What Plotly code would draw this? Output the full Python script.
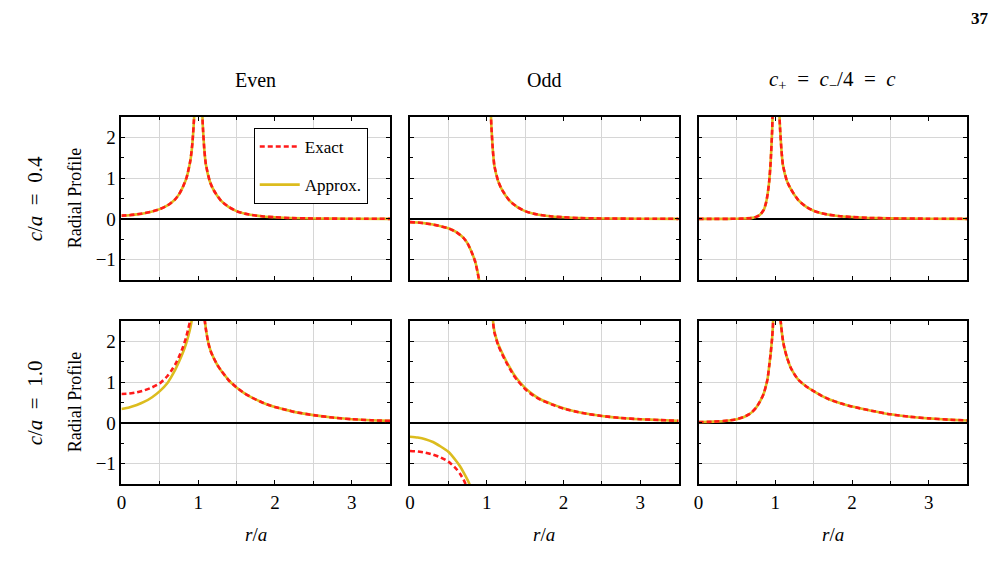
import plotly.graph_objects as go

# ---------------- data ----------------
col_titles = ["Even", "Odd", "<i>c</i><sub>+</sub>&nbsp; =&nbsp; <i>c</i><sub>−</sub>/4&nbsp; =&nbsp; <i>c</i>"]
row_titles = ["<i>c</i>/<i>a</i>&nbsp; =&nbsp; 0.4", "<i>c</i>/<i>a</i>&nbsp; =&nbsp; 1.0"]
y_label = "Radial Profile"
x_label = "<i>r</i>/<i>a</i>"
page_number = "37"

# Row 1 (c/a = 0.4)
r_even04 = [0, 0.1, 0.2, 0.3, 0.4, 0.5, 0.6, 0.7, 0.75, 0.8, 0.85, 0.9, 0.925, 0.95, 0.97, 1.0,
            1.03, 1.04, 1.05, 1.06, 1.08, 1.1, 1.15, 1.2, 1.3, 1.4, 1.5, 1.6, 1.7, 1.85, 2.0, 2.2, 2.5, 3.0, 3.5]
exact_even04 = [0.08, 0.09, 0.11, 0.14, 0.18, 0.24, 0.33, 0.48, 0.6, 0.78, 1.02, 1.45, 1.86, 2.6, 4.0, None,
                4.6, 3.5, 2.8, 2.3, 1.7, 1.34, 0.93, 0.71, 0.44, 0.29, 0.19, 0.13, 0.095, 0.06, 0.04, 0.02, 0.01, 0.003, 0.001]
approx_even04 = [0.08, 0.09, 0.11, 0.14, 0.18, 0.24, 0.33, 0.48, 0.6, 0.78, 1.02, 1.45, 1.86, 2.6, 4.0, None,
                 4.6, 3.5, 2.8, 2.3, 1.7, 1.34, 0.93, 0.71, 0.44, 0.29, 0.19, 0.13, 0.095, 0.06, 0.04, 0.02, 0.01, 0.003, 0.001]

r_odd04 = [0, 0.1, 0.2, 0.3, 0.4, 0.5, 0.6, 0.7, 0.75, 0.8, 0.85, 0.9, 0.925, 0.95, 0.97, 1.0,
           1.03, 1.04, 1.05, 1.06, 1.08, 1.1, 1.15, 1.2, 1.3, 1.4, 1.5, 1.6, 1.7, 1.85, 2.0, 2.2, 2.5, 3.0, 3.5]
exact_odd04 = [-0.08, -0.09, -0.11, -0.14, -0.18, -0.23, -0.32, -0.47, -0.6, -0.8, -1.05, -1.5, -1.9, -2.6, -4.0, None,
               4.6, 3.5, 2.8, 2.3, 1.68, 1.3, 0.92, 0.71, 0.44, 0.29, 0.19, 0.13, 0.095, 0.06, 0.04, 0.02, 0.01, 0.003, 0.001]
approx_odd04 = [-0.08, -0.09, -0.11, -0.14, -0.18, -0.23, -0.32, -0.47, -0.6, -0.8, -1.05, -1.5, -1.9, -2.6, -4.0, None,
                4.6, 3.5, 2.8, 2.3, 1.68, 1.3, 0.92, 0.71, 0.44, 0.29, 0.19, 0.13, 0.095, 0.06, 0.04, 0.02, 0.01, 0.003, 0.001]

r_cp04 = [0, 0.2, 0.4, 0.5, 0.6, 0.7, 0.75, 0.8, 0.85, 0.88, 0.9, 0.92, 0.94, 0.96, 0.97, 0.98, 1.0,
          1.03, 1.04, 1.05, 1.06, 1.08, 1.1, 1.15, 1.2, 1.3, 1.4, 1.5, 1.6, 1.7, 1.85, 2.0, 2.2, 2.5, 3.0, 3.5]
exact_cp04 = [0.0, 0.0, 0.001, 0.003, 0.008, 0.025, 0.05, 0.1, 0.22, 0.4, 0.6, 0.9, 1.4, 2.2, 3.0, 4.2, None,
              4.6, 3.5, 2.8, 2.3, 1.7, 1.32, 0.94, 0.74, 0.46, 0.3, 0.2, 0.14, 0.1, 0.065, 0.045, 0.025, 0.012, 0.004, 0.001]
approx_cp04 = [0.0, 0.0, 0.001, 0.003, 0.008, 0.025, 0.05, 0.1, 0.22, 0.4, 0.6, 0.9, 1.4, 2.2, 3.0, 4.2, None,
               4.6, 3.5, 2.8, 2.3, 1.7, 1.32, 0.94, 0.74, 0.46, 0.3, 0.2, 0.14, 0.1, 0.065, 0.045, 0.025, 0.012, 0.004, 0.001]

# Row 2 (c/a = 1.0)
r_even10 = [0, 0.1, 0.2, 0.3, 0.4, 0.5, 0.6, 0.65, 0.7, 0.75, 0.8, 0.84, 0.87, 0.9, 0.93, 0.95, 0.97, 1.0,
            1.04, 1.06, 1.08, 1.1, 1.13, 1.16, 1.2, 1.25, 1.3, 1.35, 1.4, 1.5, 1.6, 1.7, 1.8, 1.9, 2.0, 2.1,
            2.25, 2.5, 2.75, 3.0, 3.25, 3.5]
exact_even10 = [0.71, 0.72, 0.75, 0.8, 0.87, 0.97, 1.15, 1.28, 1.43, 1.62, 1.85, 2.08, 2.3, 2.55, 2.95, 3.4, 4.2, None,
                4.5, 3.3, 2.6, 2.3, 1.98, 1.77, 1.6, 1.42, 1.28, 1.16, 1.04, 0.87, 0.73, 0.62, 0.53, 0.45, 0.39, 0.34,
                0.27, 0.19, 0.13, 0.09, 0.065, 0.05]
approx_even10 = [0.34, 0.38, 0.44, 0.52, 0.63, 0.78, 0.98, 1.13, 1.3, 1.5, 1.72, 1.93, 2.12, 2.35, 2.7, 3.1, 4.0, None,
                 4.5, 3.35, 2.65, 2.32, 1.99, 1.78, 1.6, 1.42, 1.28, 1.16, 1.04, 0.87, 0.73, 0.62, 0.53, 0.45, 0.39, 0.34,
                 0.27, 0.19, 0.13, 0.09, 0.065, 0.05]

r_odd10 = [0, 0.1, 0.2, 0.3, 0.4, 0.5, 0.6, 0.65, 0.7, 0.75, 0.8, 0.85, 0.9, 0.95, 1.0,
           1.04, 1.06, 1.08, 1.1, 1.15, 1.2, 1.25, 1.3, 1.35, 1.4, 1.5, 1.6, 1.7, 1.85, 2.0, 2.25, 2.5, 2.75,
           3.0, 3.25, 3.5]
exact_odd10 = [-0.69, -0.7, -0.73, -0.78, -0.85, -0.95, -1.12, -1.24, -1.4, -1.62, -1.9, -2.3, -3.0, -4.0, None,
               4.2, 3.1, 2.5, 2.22, 1.9, 1.69, 1.5, 1.33, 1.17, 1.04, 0.83, 0.68, 0.57, 0.45, 0.35, 0.24, 0.17, 0.12,
               0.09, 0.07, 0.05]
approx_odd10 = [-0.34, -0.36, -0.4, -0.47, -0.58, -0.71, -0.93, -1.06, -1.22, -1.4, -1.62, -1.95, -2.5, -3.5, None,
                4.2, 3.15, 2.54, 2.25, 1.93, 1.72, 1.53, 1.36, 1.2, 1.07, 0.86, 0.7, 0.58, 0.46, 0.36, 0.24, 0.17, 0.12,
                0.09, 0.07, 0.05]

r_cp10 = [0, 0.2, 0.4, 0.5, 0.6, 0.65, 0.7, 0.75, 0.8, 0.85, 0.88, 0.9, 0.92, 0.94, 0.96, 0.97, 0.98, 1.0,
          1.03, 1.05, 1.07, 1.1, 1.12, 1.15, 1.2, 1.25, 1.3, 1.4, 1.5, 1.6, 1.7, 1.85, 2.0, 2.25, 2.5, 2.75, 3.0,
          3.25, 3.5]
exact_cp10 = [0.02, 0.03, 0.06, 0.09, 0.15, 0.2, 0.27, 0.37, 0.52, 0.72, 0.92, 1.08, 1.38, 1.7, 2.1, 2.4, 2.9, None,
              4.5, 3.2, 2.5, 2.02, 1.83, 1.62, 1.36, 1.19, 1.06, 0.9, 0.78, 0.67, 0.58, 0.48, 0.4, 0.3, 0.21, 0.15,
              0.11, 0.08, 0.06]
approx_cp10 = [0.02, 0.03, 0.06, 0.09, 0.15, 0.2, 0.27, 0.37, 0.52, 0.72, 0.92, 1.08, 1.38, 1.7, 2.1, 2.4, 2.9, None,
               4.5, 3.2, 2.5, 2.02, 1.83, 1.62, 1.36, 1.19, 1.06, 0.9, 0.78, 0.67, 0.58, 0.48, 0.4, 0.3, 0.21, 0.15,
               0.11, 0.08, 0.06]

panels = [
    (r_even04, exact_even04, approx_even04),
    (r_odd04, exact_odd04, approx_odd04),
    (r_cp04, exact_cp04, approx_cp04),
    (r_even10, exact_even10, approx_even10),
    (r_odd10, exact_odd10, approx_odd10),
    (r_cp10, exact_cp10, approx_cp10),
]

x_ticks = [0, 1, 2, 3]
x_minor = [0.5, 1.5, 2.5]
y_ticks = [-1, 0, 1, 2]
y_tick_text = ["−1", "0", "1", "2"]

# ---------------- styling / layout ----------------
W, H = 998, 579
RED = "#ff1a1a"
GOLD = "#dcbc1e"
FONT = "Liberation Serif"

col_px = [(117, 387), (407, 677), (697, 967)]
row_px = [(117, 280), (321, 484)]

fig = go.Figure()
layout = dict(
    width=W, height=H, margin=dict(l=0, r=0, t=0, b=0),
    paper_bgcolor="white", plot_bgcolor="white",
    font=dict(family=FONT, color="black", size=19),
    showlegend=True,
    legend=dict(x=250 / W, y=1 - 128 / H, xanchor="left", yanchor="top",
                bordercolor="black", borderwidth=1, bgcolor="white",
                font=dict(size=17, family=FONT), tracegroupgap=13,
                itemwidth=40, traceorder="grouped"),
)

for k, (r, ex, ap) in enumerate(panels):
    row, col = divmod(k, 3)
    idx = k + 1
    xs = "" if idx == 1 else str(idx)
    x0, x1 = col_px[col]
    y0, y1 = row_px[row]
    fig.add_trace(go.Scatter(x=r, y=ap, mode="lines", name="Approx.",
                             line=dict(color=GOLD, width=2.6, shape="spline", smoothing=0.5),
                             xaxis="x" + xs, yaxis="y" + xs, showlegend=(k == 0),
                             legendgroup="b", legendrank=2, connectgaps=False))
    fig.add_trace(go.Scatter(x=r, y=ex, mode="lines", name="Exact",
                             line=dict(color=RED, width=2.6, dash="5px,3px", shape="spline", smoothing=0.5),
                             xaxis="x" + xs, yaxis="y" + xs, showlegend=(k == 0),
                             legendgroup="a", legendrank=1, connectgaps=False))
    layout["xaxis" + xs] = dict(
        domain=[x0 / W, x1 / W], anchor="y" + xs, range=[0, 3.5],
        tickmode="array", tickvals=x_ticks, showticklabels=(row == 1),
        ticks="inside", ticklen=4, tickwidth=1, tickcolor="black",
        showline=True, linecolor="black", linewidth=1.5, mirror="ticks",
        showgrid=False, zeroline=False, ticklabelstandoff=0,
        tickfont=dict(size=19, family=FONT),
        minor=dict(tickmode="array", tickvals=x_minor, ticks="inside", ticklen=3, tickcolor="black",
                   showgrid=True, gridcolor="#d6d6d6", gridwidth=1),
    )
    layout["yaxis" + xs] = dict(
        domain=[1 - y1 / H, 1 - y0 / H], anchor="x" + xs, range=[-1.5, 2.5],
        tickmode="array", tickvals=y_ticks, ticktext=y_tick_text, showticklabels=(col == 0),
        ticks="inside", ticklen=4, tickwidth=1, tickcolor="black",
        showline=True, linecolor="black", linewidth=1.5, mirror="ticks",
        showgrid=True, gridcolor="#d6d6d6", gridwidth=1,
        zeroline=True, zerolinecolor="black", zerolinewidth=2,
        tickfont=dict(size=19, family=FONT),
        minor=dict(dtick=0.5, tick0=0, ticks="inside", ticklen=3, tickcolor="black", showgrid=False),
    )

annotations = []


def label(text, x, y, size, angle=0):
    annotations.append(dict(text=text, x=x / W, y=1 - y / H, xref="paper", yref="paper",
                            xanchor="center", yanchor="middle", showarrow=False,
                            textangle=angle, font=dict(size=size, family=FONT)))


for c, t in enumerate(col_titles):
    xc = (col_px[c][0] + col_px[c][1]) / 2
    label(t, xc, 80, 21 if c == 2 else 20)
    label(x_label, xc, 534, 19)
for rr, t in enumerate(row_titles):
    yc = (row_px[rr][0] + row_px[rr][1]) / 2
    label(t, 30, yc, 21, -90)
    label(y_label, 70, yc, 18, -90)
label("<b>" + page_number + "</b>", 980, 18, 17)
layout["annotations"] = annotations

fig.update_layout(**layout)
fig.write_html("out.html")
